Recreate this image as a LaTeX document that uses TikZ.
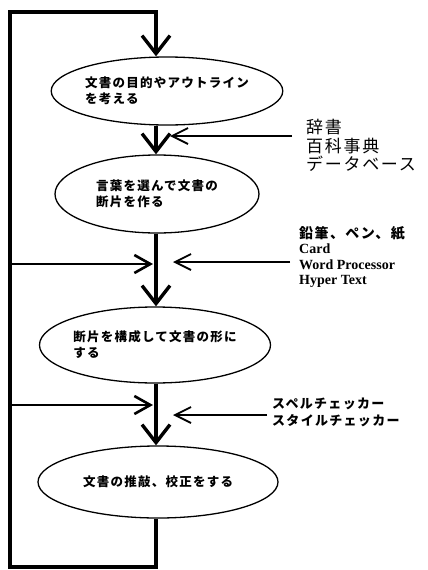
\documentclass[tikz,border=0pt]{standalone}
\usepackage{fontspec}
\setmainfont{Liberation Serif}
\newfontfamily\jpfont[LetterSpace=10]{Noto Sans CJK JP}
\usetikzlibrary{shapes.geometric,arrows.meta}

\begin{document}
\begin{tikzpicture}[x=1pt,y=-1pt,
        stage/.style={ellipse, draw, line width=1.3pt, inner sep=0pt,
            align=left, font=\jpfont\bfseries\fontsize{12.5}{16}\selectfont},
        flow/.style={line width=3.4pt, line join=miter,
            -{Straight Barb[length=18pt,width=28pt]}},
        feed/.style={line width=2.6pt, -{Straight Barb[length=16pt,width=18pt]}},
        tool/.style={line width=1.8pt, -{Straight Barb[length=16pt,width=16pt]}},
        note/.style={anchor=north west, inner sep=0pt, align=left}]
    \useasboundingbox (0,0) rectangle (428,570);

    % stages of writing
    \node[stage, minimum width=220pt, minimum height=68pt] (plan) at (167,91)
        {文書の目的やアウトライン\\を考える};
    \node[stage, minimum width=204pt, minimum height=78pt] (draft) at (157,194)
        {言葉を選んで文書の\\断片を作る};
    \node[stage, minimum width=220pt, minimum height=76pt] (compose) at (155,345)
        {断片を構成して文書の形に\\する};
    \node[stage, minimum width=240pt, minimum height=72pt] (review) at (158,482)
        {文書の推敲、校正をする};

    % tools
    \node[note, font=\jpfont\fontsize{17}{18.5}\selectfont] (refs) at (306,119)
        {辞書\\百科事典\\データベース};
    \node[note, font=\bfseries\fontsize{14}{15.5}\selectfont] (media) at (299,226)
        {{\jpfont 鉛筆、ペン、紙}\\Card\\Word Processor\\Hyper Text};
    \node[note, font=\jpfont\bfseries\fontsize{13}{16.5}\selectfont] (checks) at (272,398)
        {スペルチェッカー\\スタイルチェッカー};

    \coordinate (spine) at (156,0);
    \coordinate (ltop) at (10,12);
    \coordinate (lbot) at (10,567);
    \coordinate (j2) at (153,264);
    \coordinate (j3) at (153,405);
    \coordinate (t1s) at (292,136);
    \coordinate (t1e) at (170,136);
    \coordinate (t2s) at (290,262);
    \coordinate (t2e) at (173,262);
    \coordinate (t3s) at (267,415);
    \coordinate (t3e) at (173,415);

    % main flow and loop back
    \draw[flow] (spine |- plan.south) -- (spine |- draft.north);
    \draw[flow] (spine |- draft.south) -- (spine |- compose.north);
    \draw[flow] (spine |- compose.south) -- (spine |- review.north);
    \draw[flow] (spine |- review.south) -- (spine |- lbot) -- (lbot)
        -- (ltop) -- (spine |- ltop) -- (spine |- plan.north);
    \draw[feed] (lbot |- j2) -- (j2);
    \draw[feed] (lbot |- j3) -- (j3);

    \draw[tool] (t1s) -- (t1e);
    \draw[tool] (t2s) -- (t2e);
    \draw[tool] (t3s) -- (t3e);
\end{tikzpicture}
\end{document}
